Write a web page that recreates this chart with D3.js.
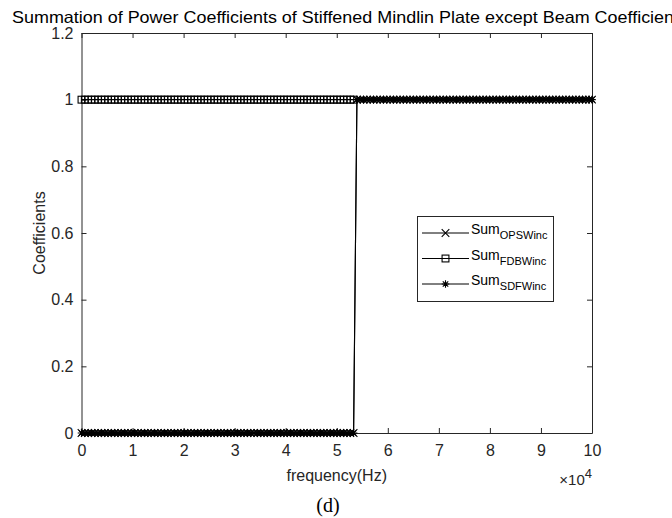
<!DOCTYPE html>
<html>
<head>
<meta charset="utf-8">
<script src="https://cdn.jsdelivr.net/npm/d3@7"></script>
<style>
  html, body { margin: 0; padding: 0; background: #fff; overflow: hidden; }
  svg { display: block; }
</style>
</head>
<body>
<script>
// ---- Data (frequency in Hz) ----
const frequency = [
  0, 650, 1300, 1950, 2600, 3250, 3900, 4550, 5200, 5850,
  6500, 7150, 7800, 8450, 9100, 9750, 10400, 11050, 11700, 12350,
  13000, 13650, 14300, 14950, 15600, 16250, 16900, 17550, 18200, 18850,
  19500, 20150, 20800, 21450, 22100, 22750, 23400, 24050, 24700, 25350,
  26000, 26650, 27300, 27950, 28600, 29250, 29900, 30550, 31200, 31850,
  32500, 33150, 33800, 34450, 35100, 35750, 36400, 37050, 37700, 38350,
  39000, 39650, 40300, 40950, 41600, 42250, 42900, 43550, 44200, 44850,
  45500, 46150, 46800, 47450, 48100, 48750, 49400, 50050, 50700, 51350,
  52000, 52650, 53300, 53950, 54600, 55250, 55900, 56550, 57200, 57850,
  58500, 59150, 59800, 60450, 61100, 61750, 62400, 63050, 63700, 64350,
  65000, 65650, 66300, 66950, 67600, 68250, 68900, 69550, 70200, 70850,
  71500, 72150, 72800, 73450, 74100, 74750, 75400, 76050, 76700, 77350,
  78000, 78650, 79300, 79950, 80600, 81250, 81900, 82550, 83200, 83850,
  84500, 85150, 85800, 86450, 87100, 87750, 88400, 89050, 89700, 90350,
  91000, 91650, 92300, 92950, 93600, 94250, 94900, 95550, 96200, 96850,
  97500, 98150, 98800, 99450, 100000
];

// Sum_OPSWinc (all frequencies)
const sumOPSWinc = [
  0,0,0,0,0,0,0,0,0,0, 0,0,0,0,0,0,0,0,0,0,
  0,0,0,0,0,0,0,0,0,0, 0,0,0,0,0,0,0,0,0,0,
  0,0,0,0,0,0,0,0,0,0, 0,0,0,0,0,0,0,0,0,0,
  0,0,0,0,0,0,0,0,0,0, 0,0,0,0,0,0,0,0,0,0,
  0,0,0,
  1,1,1,1,1,1,1,1,1,1, 1,1,1,1,1,1,1,1,1,1,
  1,1,1,1,1,1,1,1,1,1, 1,1,1,1,1,1,1,1,1,1,
  1,1,1,1,1,1,1,1,1,1, 1,1,1,1,1,1,1,1,1,1,
  1,1,1,1,1,1,1,1,1,1, 1,1
];

// Sum_FDBWinc (defined only below the cut-off, first 83 frequencies)
const sumFDBWinc = [
  1,1,1,1,1,1,1,1,1,1, 1,1,1,1,1,1,1,1,1,1,
  1,1,1,1,1,1,1,1,1,1, 1,1,1,1,1,1,1,1,1,1,
  1,1,1,1,1,1,1,1,1,1, 1,1,1,1,1,1,1,1,1,1,
  1,1,1,1,1,1,1,1,1,1, 1,1,1,1,1,1,1,1,1,1,
  1,1,1
];

// Sum_SDFWinc (all frequencies)
const sumSDFWinc = [
  0,0,0,0,0,0,0,0,0,0, 0,0,0,0,0,0,0,0,0,0,
  0,0,0,0,0,0,0,0,0,0, 0,0,0,0,0,0,0,0,0,0,
  0,0,0,0,0,0,0,0,0,0, 0,0,0,0,0,0,0,0,0,0,
  0,0,0,0,0,0,0,0,0,0, 0,0,0,0,0,0,0,0,0,0,
  0,0,0,
  1,1,1,1,1,1,1,1,1,1, 1,1,1,1,1,1,1,1,1,1,
  1,1,1,1,1,1,1,1,1,1, 1,1,1,1,1,1,1,1,1,1,
  1,1,1,1,1,1,1,1,1,1, 1,1,1,1,1,1,1,1,1,1,
  1,1,1,1,1,1,1,1,1,1, 1,1
];

const xTicks = [0, 1, 2, 3, 4, 5, 6, 7, 8, 9, 10];          // ×10^4 Hz
const yTicks = [0, 0.2, 0.4, 0.6, 0.8, 1, 1.2];
const seriesNames = ["OPSWinc", "FDBWinc", "SDFWinc"];
const seriesMarkers = ["x", "square", "star"];

// ---- Layout ----
const W = 672, H = 518;
const margin = { left: 81.5, right: 80, top: 33, bottom: 85 };
const x0 = margin.left, x1 = W - margin.right;
const y0 = H - margin.bottom, y1 = margin.top;
const axisColor = "#262626";
const font = "Liberation Sans, Arial, Helvetica, sans-serif";

const svg = d3.select("body").append("svg").attr("width", W).attr("height", H);

const x = d3.scaleLinear().domain([0, 100000]).range([x0, x1]);
const y = d3.scaleLinear().domain([0, 1.2]).range([y0, y1]);

// ---- Axes (MATLAB style: box, inward ticks) ----
const tickLen = 5;
const fmtY = d => d3.format("~g")(d);

const gx = svg.append("g").attr("transform", `translate(0,${y0})`)
  .call(d3.axisBottom(x).tickValues(xTicks.map(t => t * 1e4))
    .tickFormat((d, i) => xTicks[i]).tickSizeInner(-tickLen).tickSizeOuter(0).tickPadding(12));
const gxTop = svg.append("g").attr("transform", `translate(0,${y1})`)
  .call(d3.axisTop(x).tickValues(xTicks.map(t => t * 1e4))
    .tickFormat("").tickSizeInner(-tickLen).tickSizeOuter(0));
const gy = svg.append("g").attr("transform", `translate(${x0},0)`)
  .call(d3.axisLeft(y).tickValues(yTicks).tickFormat(fmtY)
    .tickSizeInner(-tickLen).tickSizeOuter(0).tickPadding(8));
const gyR = svg.append("g").attr("transform", `translate(${x1},0)`)
  .call(d3.axisRight(y).tickValues(yTicks).tickFormat("")
    .tickSizeInner(-tickLen).tickSizeOuter(0));

[gx, gxTop, gy, gyR].forEach(g => {
  g.select(".domain").attr("stroke", axisColor).attr("stroke-width", 1);
  g.selectAll(".tick line").attr("stroke", axisColor).attr("stroke-width", 1);
  g.selectAll(".tick text").attr("fill", axisColor)
    .style("font-family", font).style("font-size", "16px");
});

// ---- Series ----
svg.append("clipPath").attr("id", "plotclip")
  .append("rect").attr("x", x0 - 6).attr("y", y1 - 6)
  .attr("width", x1 - x0 + 12).attr("height", y0 - y1 + 12);

const plot = svg.append("g").attr("clip-path", "url(#plotclip)");

const series = [
  { name: seriesNames[0], marker: seriesMarkers[0], values: sumOPSWinc },
  { name: seriesNames[1], marker: seriesMarkers[1], values: sumFDBWinc },
  { name: seriesNames[2], marker: seriesMarkers[2], values: sumSDFWinc }
];

const line = d3.line().x(d => x(d[0])).y(d => y(d[1]));
const ms = 3.8; // marker half size
const mw = 1.1; // marker stroke width

function drawMarker(g, type, cx, cy) {
  if (type === "x") {
    g.append("path")
      .attr("d", `M${cx - ms},${cy - ms}L${cx + ms},${cy + ms}M${cx - ms},${cy + ms}L${cx + ms},${cy - ms}`)
      .attr("stroke", "#000").attr("stroke-width", mw).attr("fill", "none");
  } else if (type === "square") {
    const s = ms * 0.9;
    g.append("rect").attr("x", cx - s).attr("y", cy - s)
      .attr("width", 2 * s).attr("height", 2 * s)
      .attr("stroke", "#000").attr("stroke-width", mw).attr("fill", "none");
  } else {
    const r = ms, d = ms * 0.72;
    g.append("path")
      .attr("d", `M${cx - r},${cy}L${cx + r},${cy}M${cx},${cy - r}L${cx},${cy + r}` +
        `M${cx - d},${cy - d}L${cx + d},${cy + d}M${cx - d},${cy + d}L${cx + d},${cy - d}`)
      .attr("stroke", "#000").attr("stroke-width", mw).attr("fill", "none");
  }
}

series.forEach(s => {
  const pts = s.values.map((v, i) => [frequency[i], v]);
  plot.append("path").datum(pts).attr("d", line)
    .attr("fill", "none").attr("stroke", "#000").attr("stroke-width", 1.1);
  const mg = plot.append("g");
  pts.forEach(p => drawMarker(mg, s.marker, x(p[0]), y(p[1])));
});

// ---- Legend ----
const lg = svg.append("g");
const lgX = 417.5, lgY = 216.5, lgW = 136, lgH = 85;
lg.append("rect").attr("x", lgX).attr("y", lgY).attr("width", lgW).attr("height", lgH)
  .attr("fill", "#fff").attr("stroke", axisColor).attr("stroke-width", 1);
const rowY = [233, 258.5, 284];
series.forEach((s, i) => {
  const ry = rowY[i];
  lg.append("line").attr("x1", 422).attr("x2", 469).attr("y1", ry).attr("y2", ry)
    .attr("stroke", "#000").attr("stroke-width", 1);
  drawMarker(lg, s.marker, 445.5, ry);
  const t = lg.append("text").attr("x", 471).attr("y", ry + 1)
    .attr("fill", "#000").style("font-family", font).style("font-size", "14px");
  t.append("tspan").text("Sum");
  t.append("tspan").attr("dy", 5).style("font-size", "11px").text(s.name);
});

// ---- Labels ----
svg.append("text")
  .attr("x", 12).attr("y", 23)
  .attr("text-anchor", "start")
  .attr("textLength", 676).attr("lengthAdjust", "spacingAndGlyphs")
  .attr("fill", "#000").style("font-family", font).style("font-size", "16.5px")
  .text("Summation of Power Coefficients of Stiffened Mindlin Plate except Beam Coefficients");

svg.append("text")
  .attr("x", (x0 + x1) / 2).attr("y", 481)
  .attr("text-anchor", "middle")
  .attr("fill", axisColor).style("font-family", font).style("font-size", "16px")
  .text("frequency(Hz)");

svg.append("text")
  .attr("transform", `translate(45,${(y0 + y1) / 2}) rotate(-90)`)
  .attr("text-anchor", "middle")
  .attr("fill", axisColor).style("font-family", font).style("font-size", "16px")
  .text("Coefficients");

const ex = svg.append("text").attr("x", x1).attr("y", 485).attr("text-anchor", "end")
  .attr("fill", axisColor).style("font-family", font).style("font-size", "15px");
ex.append("tspan").text("×10");
ex.append("tspan").attr("dy", -7).style("font-size", "13px").text("4");

svg.append("text")
  .attr("x", 328).attr("y", 512)
  .attr("text-anchor", "middle")
  .attr("fill", "#000").style("font-family", "Liberation Serif, 'Times New Roman', serif").style("font-size", "20px")
  .text("(d)");
</script>
</body>
</html>
